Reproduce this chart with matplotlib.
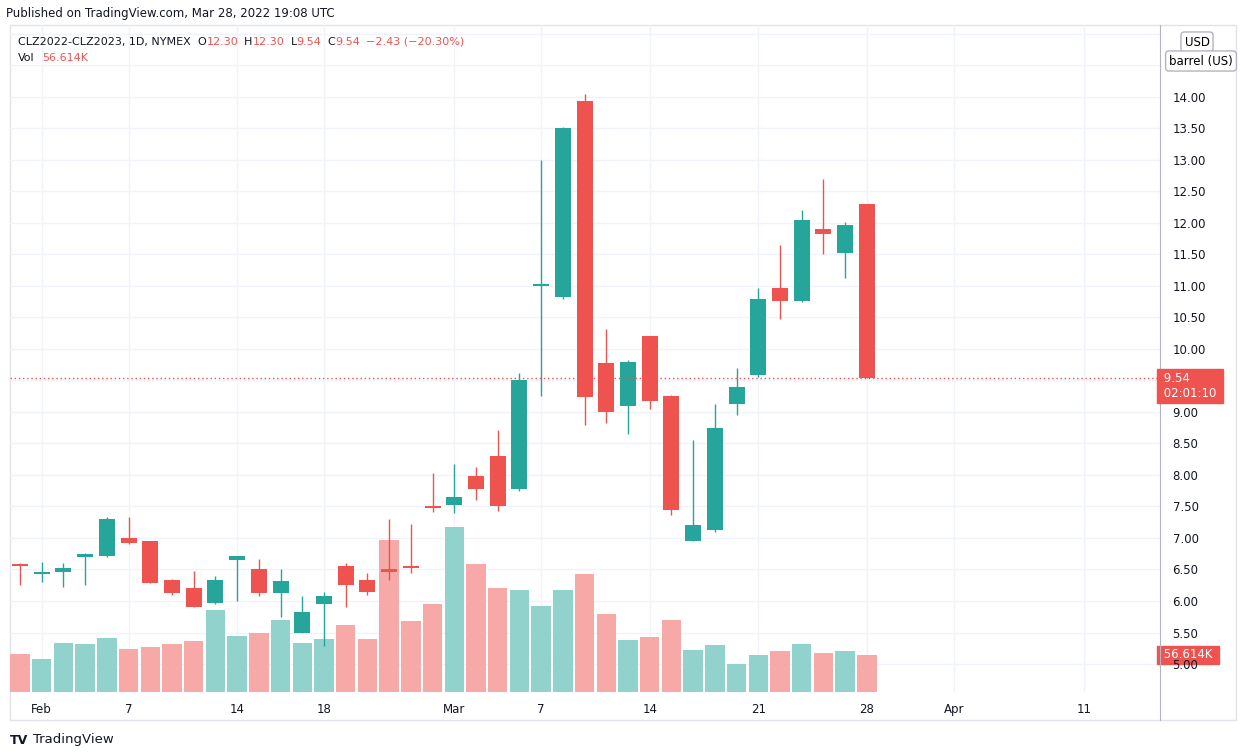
import numpy as np
import matplotlib.pyplot as plt
import matplotlib.transforms as mtrans
from matplotlib.patches import Rectangle

opens  = [6.58, 6.43, 6.46, 6.70, 6.72, 7.00, 6.95, 6.33, 6.20, 5.97,
          6.65, 6.50, 6.13, 5.50, 5.95, 6.55, 6.33, 6.50, 6.56, 7.49,
          7.52, 7.98, 8.30, 7.77, 11.00, 10.83, 13.93, 9.77, 9.10, 10.20,
          9.25, 6.95, 7.13, 9.12, 9.58, 10.97, 10.76, 11.90, 11.52, 12.30]
highs  = [6.60, 6.62, 6.60, 6.76, 7.33, 7.33, 6.95, 6.35, 6.47, 6.40,
          6.72, 6.67, 6.50, 6.08, 6.15, 6.60, 6.45, 7.30, 7.22, 8.03,
          8.18, 8.13, 8.72, 9.62, 13.00, 13.52, 14.05, 10.32, 9.82, 10.20,
          9.27, 8.55, 9.12, 9.70, 10.97, 11.65, 12.20, 12.70, 12.02, 12.30]
lows   = [6.25, 6.30, 6.22, 6.25, 6.70, 6.90, 6.28, 6.10, 5.90, 5.95,
          6.00, 6.08, 5.75, 5.50, 5.28, 5.90, 6.10, 6.33, 6.45, 7.42,
          7.40, 7.60, 7.43, 7.75, 9.25, 10.80, 8.80, 8.83, 8.65, 9.05,
          7.37, 6.95, 7.10, 8.95, 9.55, 10.48, 10.74, 11.50, 11.13, 9.54]
closes = [6.56, 6.46, 6.53, 6.74, 7.30, 6.92, 6.28, 6.13, 5.90, 6.33,
          6.72, 6.13, 6.32, 5.83, 6.08, 6.25, 6.15, 6.46, 6.53, 7.47,
          7.65, 7.78, 7.50, 9.50, 11.03, 13.50, 9.23, 9.00, 9.80, 9.18,
          7.45, 7.20, 8.75, 9.40, 10.80, 10.76, 12.05, 11.83, 11.97, 9.54]
volumes = [58, 50, 75, 73, 83, 66, 69, 73, 78, 125,
           86, 90, 110, 75, 81, 102, 81, 232, 109, 135,
           252, 196, 159, 156, 132, 156, 180, 119, 80, 84,
           110, 64, 72, 43, 57, 63, 73, 60, 63, 56.614]
tick_idx = [1, 5, 10, 14, 20, 24, 29, 34, 39, 43, 49]
tick_lab = ["Feb", "7", "14", "18", "Mar", "7", "14", "21", "28", "Apr", "11"]
levels = np.arange(5, 15.01, 0.5)

UP, DN = "#26a69a", "#ef5350"
UPV, DNV = "#92d2cc", "#f7a9a7"
W, H = 1246, 756
fig = plt.figure(figsize=(W / 100, H / 100), dpi=100)
ax = fig.add_axes([10 / W, 1 - 692 / H, 1150 / W, 667 / H])
axv = ax.twinx()
ax.set_zorder(2); ax.patch.set_visible(False)
axv.set_zorder(1)

x = np.arange(len(opens))
for i in x:
    o, h, l, c = opens[i], highs[i], lows[i], closes[i]
    col = UP if c >= o else DN
    ax.vlines(i, l, h, color=col, lw=1)
    b = max(abs(c - o), 0.03)
    ax.add_patch(Rectangle((i - 0.37, min(o, c)), 0.74, b, color=col, lw=0))
    axv.bar(i, volumes[i], width=0.9, color=UPV if c >= o else DNV, zorder=2)

ax.set_xlim(-0.46, 52.5)
ax.set_ylim(4.556, 15.14)
axv.set_ylim(0, 1020)
axv.set_yticks([])

# grid drawn in the lower axes so volume bars cover it
blend = mtrans.blended_transform_factory(axv.transAxes, ax.transData)
for lv in levels:
    axv.plot([0, 1], [lv, lv], transform=blend, color="#f0f3fa", lw=1, zorder=0)
for t in tick_idx:
    axv.axvline(t, color="#f0f3fa", lw=1, zorder=0)

# 9.50 sits under the price tag and 15.00 under the USD box
ax.set_yticks(levels)
ax.set_yticklabels(["" if (abs(v - 9.5) < 1e-6 or v > 14.9) else f"{v:.2f}" for v in levels])
ax.set_xticks(tick_idx)
ax.set_xticklabels(tick_lab)
ax.yaxis.tick_right()
ax.tick_params(axis="y", length=0, labelsize=8.5, colors="#131722", pad=9)
ax.tick_params(axis="x", length=0, labelsize=8.5, colors="#131722", pad=8)
for a in (ax, axv):
    for s in a.spines.values():
        s.set_visible(False)
ax.spines["right"].set_visible(True)
ax.spines["right"].set_color("#b2b5be")
ax.spines["right"].set_bounds(4.556 - 0.45, 15.14)

fig.add_artist(Rectangle((10 / W, 1 - 720 / H), 1226 / W, 695 / H, transform=fig.transFigure,
                         fill=False, ec="#e0e3eb", lw=1))

ax.axhline(9.54, color=DN, lw=1, ls=(0, (1, 2)))
ax.text(1.0, 9.54 + 0.1, " 9.54   \n 02:01:10 ", transform=ax.get_yaxis_transform(),
        ha="left", va="top", fontsize=8.5, color="white", linespacing=1.25,
        bbox=dict(boxstyle="square,pad=0.25", fc=DN, ec=DN), clip_on=False)
axv.text(1.0, 56.614, " 56.614K ", transform=axv.get_yaxis_transform(),
         ha="left", va="center", fontsize=8.5, color="white",
         bbox=dict(boxstyle="square,pad=0.25", fc=DN, ec=DN), clip_on=False)

fig.text(1197 / W, 1 - 42 / H, "USD", ha="center", va="center", fontsize=8.5,
         bbox=dict(boxstyle="round,pad=0.3", fc="white", ec="#b2b5be"), zorder=5)
fig.text(1201 / W, 1 - 61 / H, "barrel (US)", ha="center", va="center", fontsize=8.5,
         bbox=dict(boxstyle="round,pad=0.3", fc="white", ec="#b2b5be"), zorder=5)

fig.text(6 / W, 1 - 14 / H, "Published on TradingView.com, Mar 28, 2022 19:08 UTC",
         fontsize=8.5, color="#131722", va="center")

# legend line: chain pieces by measured width
rend = fig.canvas.get_renderer()
pieces = [("CLZ2022-CLZ2023, 1D, NYMEX", "#131722", 7), ("O", "#131722", 0), ("12.30", DN, 6),
          ("H", "#131722", 0), ("12.30", DN, 6), ("L", "#131722", 0), ("9.54", DN, 6),
          ("C", "#131722", 0), ("9.54", DN, 6), ("\u22122.43 (\u221220.30%)", DN, 0)]
px = 18
for s, col, gap in pieces:
    t = fig.text(px / W, 1 - 42 / H, s, fontsize=8, color=col, va="center")
    px += t.get_window_extent(rend).width + gap
fig.text(18 / W, 1 - 58 / H, "Vol", fontsize=8, color="#131722", va="center")
fig.text(42 / W, 1 - 58 / H, "56.614K", fontsize=8, color=DN, va="center")
fig.text(10 / W, 1 - 740 / H, "TV", fontsize=9, color="#131722", va="center",
         fontweight="heavy")
fig.text(33 / W, 1 - 740 / H, "TradingView", fontsize=9.5, color="#131722", va="center")

fig.savefig("out.png", dpi=100)
